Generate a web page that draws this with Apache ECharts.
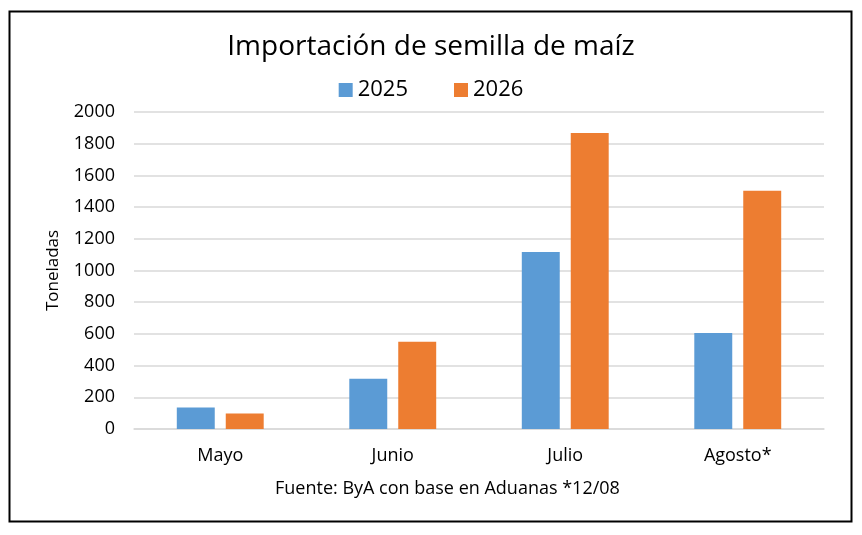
<!DOCTYPE html>
<html>
<head>
<meta charset="utf-8" />
<title>Importación de semilla de maíz</title>
<style>
  html, body, #chart { width: 100%; height: 100%; margin: 0; overflow: hidden; background: #fff; }
</style>
</head>
<body>
<div id="chart"></div>
<script src="https://cdn.jsdelivr.net/npm/echarts@6/dist/echarts.min.js"></script>
<script>
// datos
var meses = ['Mayo', 'Junio', 'Julio', 'Agosto*'];
var serie2025 = [136, 317, 1117, 606];
var serie2026 = [98, 550, 1868, 1503];
var nombres = ['2025', '2026'];

var fuente = "'Open Sans', 'Noto Sans', sans-serif";
var chart = echarts.init(document.getElementById('chart'));

chart.setOption({
  textStyle: { fontFamily: fuente },
  title: {
    text: 'Importación de semilla de maíz',
    left: 'center',
    top: 28,
    textStyle: { fontSize: 28, fontWeight: 'normal', color: '#000', fontFamily: fuente }
  },
  legend: {
    data: nombres,
    top: 74,
    left: 'center',
    itemWidth: 14,
    itemHeight: 14,
    itemGap: 46,
    icon: 'rect',
    textStyle: { fontSize: 22, color: '#000', fontFamily: fuente }
  },
  grid: { left: 134, right: 38, top: 112, bottom: 106, containLabel: false },
  xAxis: {
    type: 'category',
    data: meses,
    axisTick: { show: false },
    axisLine: { lineStyle: { color: '#d9d9d9', width: 1.5 } },
    axisLabel: { fontSize: 18, color: '#000', margin: 18, fontFamily: fuente }
  },
  yAxis: {
    type: 'value',
    min: 0,
    max: 2000,
    interval: 200,
    name: 'Toneladas',
    nameLocation: 'middle',
    nameGap: 72,
    nameTextStyle: { fontSize: 17, color: '#000', fontFamily: fuente },
    axisLine: { show: false },
    axisTick: { show: false },
    axisLabel: { fontSize: 18, color: '#000', margin: 19, fontFamily: fuente,
                 formatter: function (v) { return String(v); } },
    splitLine: { lineStyle: { color: '#d9d9d9', width: 1.5 } }
  },
  series: [
    { name: nombres[0], type: 'bar', data: serie2025, barWidth: '22%', barGap: '29%',
      itemStyle: { color: '#5b9bd5' } },
    { name: nombres[1], type: 'bar', data: serie2026, barWidth: '22%',
      itemStyle: { color: '#ed7d31' } }
  ],
  graphic: [
    { type: 'rect', left: 7, top: 9, shape: { width: 842, height: 510 },
      style: { fill: 'none', stroke: '#000', lineWidth: 2 }, z: 100 },
    { type: 'text', left: 275, top: 480,
      style: { text: 'Fuente: ByA con base en Aduanas *12/08', fontSize: 18,
               fill: '#000', fontFamily: fuente } }
  ]
});
</script>
</body>
</html>
